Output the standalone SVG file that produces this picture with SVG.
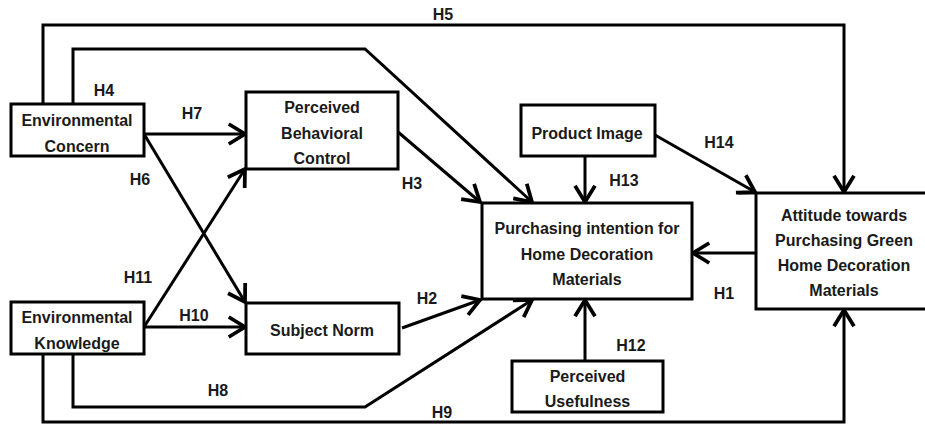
<svg xmlns="http://www.w3.org/2000/svg" width="925" height="425" viewBox="0 0 925 425">
<defs>
<marker id="arr" markerUnits="userSpaceOnUse" markerWidth="30" markerHeight="30" refX="0" refY="0" viewBox="-16 -12 20 24" orient="auto" overflow="visible">
<path d="M-13,-8 L0,0 L-13,8" fill="none" stroke="#000" stroke-width="3" stroke-linejoin="miter"/>
</marker>
<style>
.box{fill:#fff;stroke:#000;stroke-width:3}
.t{font-family:"Liberation Sans",Arial,sans-serif;font-weight:bold;font-size:16px;fill:#1a1a1a;text-anchor:middle}
.c{fill:none;stroke:#000;stroke-width:3;stroke-linejoin:miter}
.a{marker-end:url(#arr)}
</style>
</defs>
<rect width="925" height="425" fill="#fff"/>
<g id="connectors">
<polyline class="c a" points="43,104 43,25 844,25 844,192"/>
<polyline class="c a" points="73,104 73,49 365,49 532,202"/>
<line class="c a" x1="144" y1="134" x2="245" y2="134"/>
<line class="c a" x1="144" y1="134" x2="245" y2="302"/>
<line class="c a" x1="144" y1="327" x2="245" y2="169"/>
<line class="c a" x1="144" y1="327" x2="245" y2="327"/>
<line class="c a" x1="398" y1="132" x2="480" y2="202"/>
<line class="c a" x1="402" y1="328" x2="480" y2="300"/>
<polyline class="c a" points="73,354 73,407 365,407 532,300"/>
<polyline class="c a" points="43,354 43,422 844,422 844,310"/>
<line class="c a" x1="585" y1="156" x2="585" y2="202"/>
<line class="c a" x1="655" y1="135" x2="755" y2="192"/>
<line class="c a" x1="756" y1="253" x2="693" y2="253"/>
<line class="c a" x1="585" y1="361" x2="585" y2="300"/>
<line class="c" x1="738" y1="193" x2="756" y2="193"/>
</g>
<g id="labels">
<text class="t" x="443" y="20">H5</text>
<text class="t" x="104" y="96">H4</text>
<text class="t" x="192" y="119">H7</text>
<text class="t" x="140" y="185">H6</text>
<text class="t" x="412" y="189">H3</text>
<text class="t" x="719" y="148">H14</text>
<text class="t" x="624" y="186">H13</text>
<text class="t" x="138" y="283">H11</text>
<text class="t" x="194" y="321">H10</text>
<text class="t" x="427" y="304">H2</text>
<text class="t" x="218" y="396">H8</text>
<text class="t" x="442" y="418">H9</text>
<text class="t" x="724" y="299">H1</text>
<text class="t" x="631" y="351">H12</text>
</g>
<g id="env-concern">
<rect class="box" x="11" y="104" width="133" height="52"/>
<text class="t" x="77" y="125.5">Environmental</text>
<text class="t" x="77" y="151.5">Concern</text>
</g>
<g id="pbc">
<rect class="box" x="246" y="92" width="152" height="77"/>
<text class="t" x="322" y="112.5">Perceived</text>
<text class="t" x="322" y="138.5">Behavioral</text>
<text class="t" x="322" y="163.5">Control</text>
</g>
<g id="product-image">
<rect class="box" x="521" y="105" width="134" height="51"/>
<text class="t" x="587" y="138.5">Product Image</text>
</g>
<g id="purchasing-intention">
<rect class="box" x="482" y="203" width="210" height="96"/>
<text class="t" x="587" y="233.5">Purchasing intention for</text>
<text class="t" x="587" y="259.5">Home Decoration</text>
<text class="t" x="587" y="284.5">Materials</text>
</g>
<g id="attitude">
<rect class="box" x="756" y="193" width="180" height="116"/>
<text class="t" x="844" y="220.5">Attitude towards</text>
<text class="t" x="844" y="245.5">Purchasing Green</text>
<text class="t" x="844" y="270.5">Home Decoration</text>
<text class="t" x="844" y="295.5">Materials</text>
</g>
<g id="env-knowledge">
<rect class="box" x="11" y="302" width="133" height="52"/>
<text class="t" x="77" y="322.5">Environmental</text>
<text class="t" x="77" y="348.5">Knowledge</text>
</g>
<g id="subject-norm">
<rect class="box" x="246" y="303" width="153" height="51"/>
<text class="t" x="322" y="335.5">Subject Norm</text>
</g>
<g id="perceived-usefulness">
<rect class="box" x="512" y="361" width="151" height="51"/>
<text class="t" x="587.5" y="381.5">Perceived</text>
<text class="t" x="587.5" y="406.5">Usefulness</text>
</g>
</svg>
